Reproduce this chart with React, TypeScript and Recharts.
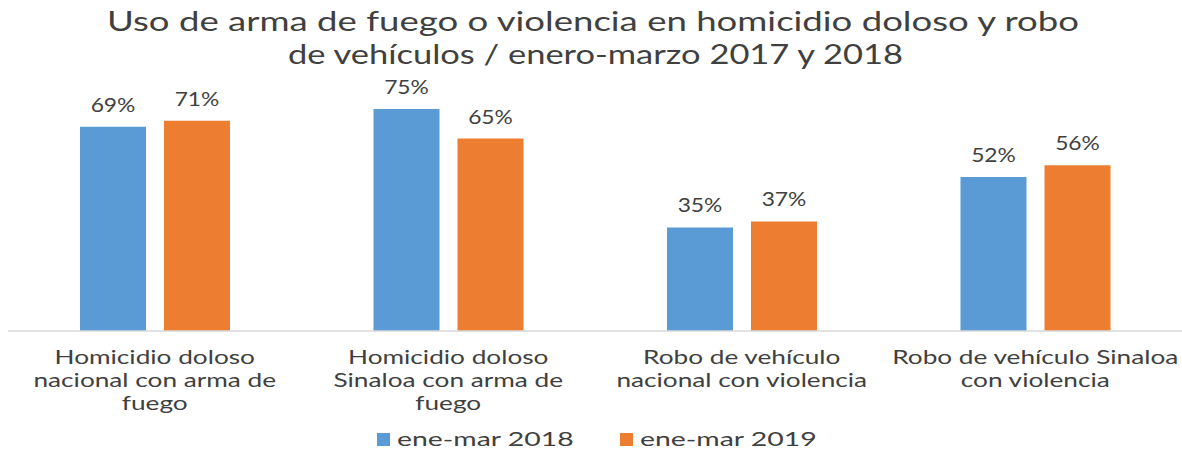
import { BarChart, Bar, XAxis, YAxis, Legend, LabelList } from 'recharts';

// Chart data
const categories = [
  'Homicidio doloso\nnacional con arma de\nfuego',
  'Homicidio doloso\nSinaloa con arma de\nfuego',
  'Robo de vehículo\nnacional con violencia',
  'Robo de vehículo Sinaloa\ncon violencia',
];
const serie2018 = [69, 75, 35, 52];
const serie2019 = [71, 65, 37, 56];
const titleLines = [
  'Uso de arma de fuego o violencia en homicidio doloso y robo',
  'de vehículos / enero-marzo 2017 y 2018',
];

const data = categories.map((name, i) => ({
  name,
  a: serie2018[i],
  b: serie2019[i],
}));

const BLUE = '#5B9BD5';
const ORANGE = '#ED7D31';
const TEXT = '#404040';
const FONT = 'Lato, "Open Sans", sans-serif';

function CategoryTick(props: any) {
  const { x, y, payload } = props;
  const lines: string[] = String(payload.value).split('\n');
  return (
    <g transform={`translate(${x},${y + 25}) scale(1.38,1)`}>
      {lines.map((line, i) => (
        <text
          key={i}
          x={0}
          y={i * 23}
          textAnchor="middle"
          fill={TEXT}
          fontSize={19}
          fontFamily={FONT}
        >
          {line}
        </text>
      ))}
    </g>
  );
}

function ValueLabel(props: any) {
  const { x, y, width, value } = props;
  return (
    <text
      transform={`translate(${x + width / 2},${y - 15}) scale(1.2,1)`}
      textAnchor="middle"
      fill={TEXT}
      fontSize={19}
      fontFamily={FONT}
    >
      {value}%
    </text>
  );
}

function LegendContent() {
  const items = [
    { label: 'ene-mar 2018', color: BLUE },
    { label: 'ene-mar 2019', color: ORANGE },
  ];
  return (
    <svg width={1174} height={40} style={{ display: 'block' }}>
      {items.map((it, i) => {
        const x0 = 369 + i * 243;
        return (
          <g key={it.label}>
            <rect x={x0} y={22} width={13} height={13} fill={it.color} />
            <text
              transform={`translate(${x0 + 20},${35}) scale(1.42,1)`}
              fill={TEXT}
              fontSize={20}
              fontFamily={FONT}
            >
              {it.label}
            </text>
          </g>
        );
      })}
    </svg>
  );
}

export default function App() {
  return (
    <div style={{ position: 'absolute', left: 0, top: 0, width: 1182, height: 451, background: '#fff' }}>
      <svg width={1182} height={75} style={{ position: 'absolute', left: 0, top: 0 }}>
        <text x={107} y={31} textLength={972} lengthAdjust="spacingAndGlyphs" fill={TEXT} fontSize={27} fontFamily={FONT}>
          {titleLines[0]}
        </text>
        <text x={288} y={64} textLength={615} lengthAdjust="spacingAndGlyphs" fill={TEXT} fontSize={27} fontFamily={FONT}>
          {titleLines[1]}
        </text>
      </svg>
      <BarChart
        width={1182}
        height={451}
        data={data}
        margin={{ top: 35, right: 0, left: 8, bottom: 0 }}
        barGap={18}
        barSize={66}
      >
        <XAxis
          dataKey="name"
          axisLine={{ stroke: '#D9D9D9', strokeWidth: 1.5 }}
          tickLine={false}
          interval={0}
          height={80}
          tick={<CategoryTick />}
        />
        <YAxis hide domain={[0, 100]} />
        <Legend verticalAlign="bottom" height={40} content={<LegendContent />} />
        <Bar dataKey="a" name="ene-mar 2018" fill={BLUE} isAnimationActive={false}>
          <LabelList dataKey="a" content={<ValueLabel />} />
        </Bar>
        <Bar dataKey="b" name="ene-mar 2019" fill={ORANGE} isAnimationActive={false}>
          <LabelList dataKey="b" content={<ValueLabel />} />
        </Bar>
      </BarChart>
    </div>
  );
}
